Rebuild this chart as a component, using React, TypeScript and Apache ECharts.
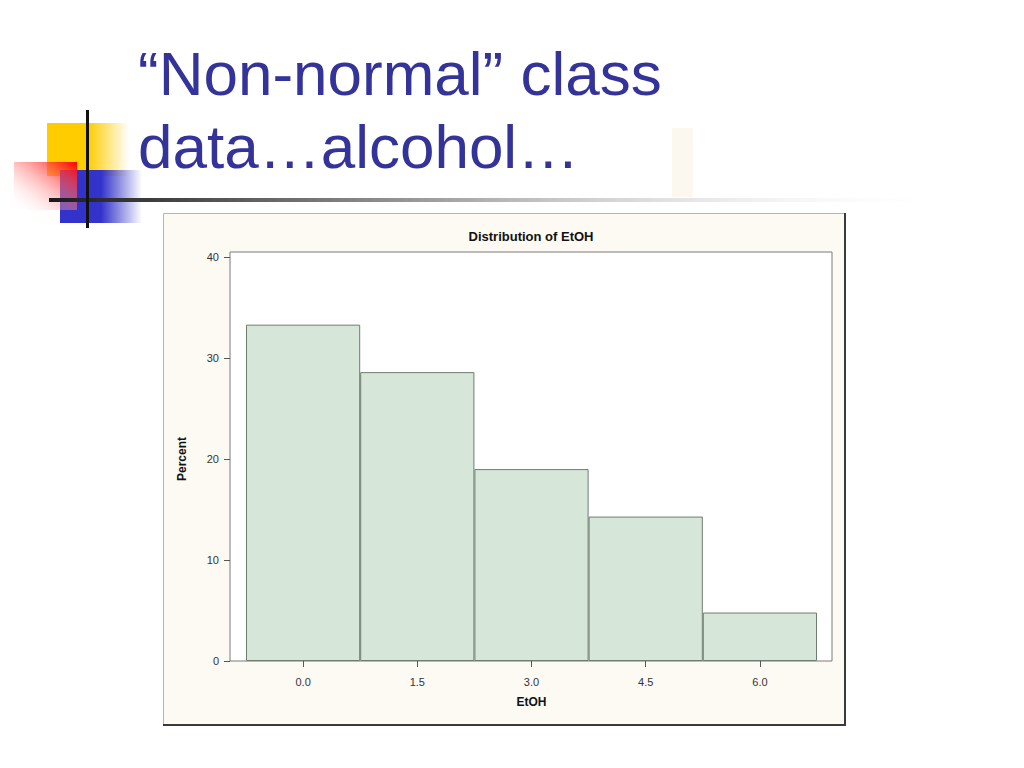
import React, { useEffect, useRef } from "react";
import * as echarts from "echarts";

const slideTitleLines = ["\u201CNon-normal\u201D class", "data\u2026alcohol\u2026"];
const chartTitle = "Distribution of EtOH";
const xAxisName = "EtOH";
const yAxisName = "Percent";
const binMidpoints = [0.0, 1.5, 3.0, 4.5, 6.0];
const binLabels = binMidpoints.map((m) => m.toFixed(1));
const percentValues = [33.3, 28.6, 19.0, 14.3, 4.8];

export default function App() {
  const ref = useRef<HTMLDivElement>(null);
  useEffect(() => {
    if (!ref.current) return;
    const chart = echarts.init(ref.current, null, { renderer: "svg" });
    const titleColor = "#333399";
    const labelFont = "'Liberation Sans Narrow', 'Liberation Sans', Arial, sans-serif";
    chart.setOption({
      animation: false,
      backgroundColor: "#ffffff",
      graphic: [
        {
          type: "rect", shape: { x: 47, y: 123, width: 82, height: 53 }, z: 1,
          style: { fill: new echarts.graphic.LinearGradient(0, 0, 1, 0, [
            { offset: 0, color: "#FFCC00" }, { offset: 0.5, color: "#FFCC00" }, { offset: 1, color: "rgba(255,204,0,0)" }]) },
        },
        {
          type: "rect", shape: { x: 60, y: 170, width: 82, height: 53 }, z: 2,
          style: { fill: new echarts.graphic.LinearGradient(0, 0, 1, 0, [
            { offset: 0, color: "#3333CC" }, { offset: 0.5, color: "#3333CC" }, { offset: 1, color: "rgba(51,51,204,0)" }]) },
        },
        {
          type: "rect", shape: { x: 14, y: 162, width: 63, height: 48 }, z: 3,
          style: { fill: new echarts.graphic.LinearGradient(1, 0, 0, 1, [
            { offset: 0, color: "#FF0000" }, { offset: 1, color: "rgba(255,255,255,0)" }]) },
        },
        {
          type: "rect", shape: { x: 49, y: 198, width: 912, height: 4 }, z: 4,
          style: { fill: new echarts.graphic.LinearGradient(0, 0, 1, 0, [
            { offset: 0, color: "#1a1a1a" }, { offset: 0.08, color: "#333333" }, { offset: 0.45, color: "#a8a8a8" }, { offset: 1, color: "rgba(255,255,255,0)" }]) },
        },
        {
          type: "rect", shape: { x: 86, y: 110, width: 3, height: 118 }, z: 5,
          style: { fill: "#111111" },
        },
        {
          type: "rect", shape: { x: 672, y: 128, width: 21, height: 69 }, z: 1,
          style: { fill: "#FBF8EF" },
        },
        {
          type: "text", x: 138, y: 42, z: 6,
          style: { text: slideTitleLines[0], fill: titleColor, font: "62px 'Liberation Sans', Arial, sans-serif", textVerticalAlign: "top" },
        },
        {
          type: "text", x: 138, y: 115, z: 6,
          style: { text: slideTitleLines[1], fill: titleColor, font: "62px 'Liberation Sans', Arial, sans-serif", textVerticalAlign: "top" },
        },
        {
          type: "rect", shape: { x: 163.5, y: 213.5, width: 681, height: 511 }, z: -10,
          style: { fill: "#FCFAF3", stroke: "#B5B5B0", lineWidth: 1 },
        },
        {
          type: "polyline", shape: { points: [[845, 213], [845, 725], [163, 725]] }, z: -9,
          style: { stroke: "#3a3a3a", lineWidth: 2, fill: null },
        },
        {
          type: "text", x: 531, y: 236, z: 6,
          style: { text: chartTitle, fill: "#111111", font: "bold 13px 'Liberation Sans', Arial, sans-serif", textAlign: "center", textVerticalAlign: "middle" },
        },
      ],
      grid: [
        { left: 230, right: 192, top: 252, bottom: 107, show: true, backgroundColor: "#ffffff", borderColor: "#7a7a7a", borderWidth: 1 },
        { left: 246, right: 207, top: 257, bottom: 107 },
      ],
      xAxis: [
        { gridIndex: 0, type: "value", show: false, min: 0, max: 1 },
        {
          gridIndex: 1, type: "category", data: binLabels, boundaryGap: true,
          name: xAxisName, nameLocation: "middle", nameGap: 35,
          nameTextStyle: { fontFamily: "'Liberation Sans', Arial, sans-serif", fontWeight: "bold", fontSize: 12, color: "#111" },
          axisLine: { show: false },
          splitLine: { show: false },
          axisTick: { show: true, alignWithLabel: true, length: 6, lineStyle: { color: "#555" } },
          axisLabel: { margin: 15, fontSize: 11, color: "#333", fontFamily: labelFont },
        },
      ],
      yAxis: [
        { gridIndex: 0, type: "value", show: false, min: 0, max: 1 },
        {
          gridIndex: 1, type: "value", min: 0, max: 40, interval: 10, offset: 16,
          name: yAxisName, nameLocation: "middle", nameGap: 42, nameRotate: 90,
          nameTextStyle: { fontFamily: "'Liberation Sans', Arial, sans-serif", fontWeight: "bold", fontSize: 12, color: "#111" },
          axisLine: { show: false },
          splitLine: { show: false },
          axisTick: { show: true, length: 6, lineStyle: { color: "#555" } },
          axisLabel: { margin: 11, fontSize: 11, color: "#333", fontFamily: labelFont },
        },
      ],
      series: [
        {
          type: "bar",
          xAxisIndex: 1, yAxisIndex: 1,
          data: percentValues,
          barCategoryGap: "0%",
          itemStyle: { color: "#D6E6D8", borderColor: "#6E7C71", borderWidth: 1 },
        },
      ],
    });
    return () => chart.dispose();
  }, []);
  return <div ref={ref} style={{ position: "fixed", left: 0, top: 0, width: 1024, height: 768 }} />;
}
